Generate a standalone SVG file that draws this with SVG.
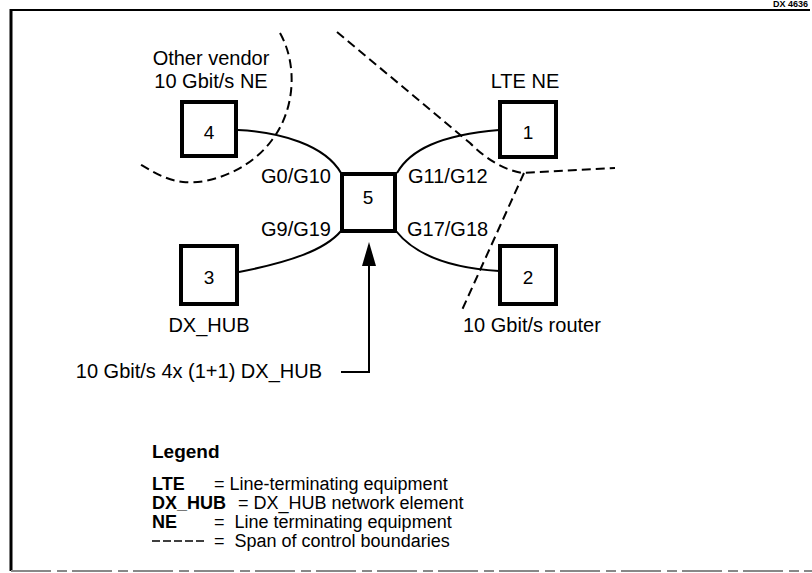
<svg xmlns="http://www.w3.org/2000/svg" width="812" height="573" viewBox="0 0 812 573">
<style>
text{font-family:"Liberation Sans",Arial,sans-serif;fill:#000}
.lbl{font-size:20px}
.num{font-size:19px}
.box{fill:#fff;stroke:#000;stroke-width:4}
.link{fill:none;stroke:#000;stroke-width:2}
.dash{fill:none;stroke:#000;stroke-width:2;stroke-dasharray:9,5}
.leg{font-size:18px}
.legb{font-size:18px;font-weight:bold}
</style>
<rect width="812" height="573" fill="#fff"/>
<g id="frame">
<line x1="11" y1="10" x2="810" y2="10" stroke="#000" stroke-width="2"/>
<line x1="11" y1="9" x2="11" y2="571" stroke="#000" stroke-width="3"/>
<line x1="11" y1="571" x2="812" y2="571" stroke="#888" stroke-width="2" stroke-dasharray="40,6,10,5"/>
<text x="808" y="7" text-anchor="end" style="font-size:9px;font-weight:bold">DX 4636</text>
</g>
<g id="boundaries">
<path class="dash" d="M280,33 C298,65 295,110 272,140 C250,170 210,185 183,182 C165,180 150,170 138,163"/>
<path class="dash" d="M337,32 L470,143 Q495,168 522,173 L615,168"/>
<path class="dash" d="M524,173 L462,310"/>
</g>
<g id="connectors">
<path class="link" d="M238,130 C280,132 325,145 341,173"/>
<path class="link" d="M397,173 C410,150 440,135 499,130"/>
<path class="link" d="M239,272 C290,262 325,250 341,231"/>
<path class="link" d="M396,231 C415,255 450,268 499,271"/>
<path class="link" d="M341,372 H369 V262"/>
<polygon points="369,242 376,266 362,266" fill="#000"/>
</g>
<g id="node4">
<rect class="box" x="182" y="102" width="54" height="54"/>
<text class="num" x="209" y="139" text-anchor="middle">4</text>
<text class="lbl" x="211" y="65" text-anchor="middle">Other vendor</text>
<text class="lbl" x="211" y="88" text-anchor="middle">10 Gbit/s NE</text>
</g>
<g id="node1">
<rect class="box" x="500" y="102" width="56" height="55"/>
<text class="num" x="528" y="139" text-anchor="middle">1</text>
<text class="lbl" x="525" y="88" text-anchor="middle">LTE NE</text>
</g>
<g id="node5">
<rect class="box" x="342" y="174" width="53" height="57"/>
<text class="num" x="368" y="204" text-anchor="middle">5</text>
<text class="lbl" x="331" y="183" text-anchor="end">G0/G10</text>
<text class="lbl" x="408" y="183">G11/G12</text>
<text class="lbl" x="331" y="236" text-anchor="end">G9/G19</text>
<text class="lbl" x="407" y="236">G17/G18</text>
<text class="lbl" x="322" y="378" text-anchor="end">10 Gbit/s 4x (1+1) DX_HUB</text>
</g>
<g id="node3">
<rect class="box" x="181" y="246" width="56" height="58"/>
<text class="num" x="209" y="284" text-anchor="middle">3</text>
<text class="lbl" x="209" y="332" text-anchor="middle">DX_HUB</text>
</g>
<g id="node2">
<rect class="box" x="500" y="246" width="56" height="58"/>
<text class="num" x="528" y="284" text-anchor="middle">2</text>
<text class="lbl" x="463" y="332">10 Gbit/s router</text>
</g>
<g id="legend">
<text class="legb" x="152" y="458" style="font-size:19px">Legend</text>
<text class="legb" x="152" y="490">LTE</text>
<text class="leg" x="214" y="490">= Line-terminating equipment</text>
<text class="legb" x="152" y="509">DX_HUB</text>
<text class="leg" x="238" y="509">= DX_HUB network element</text>
<text class="legb" x="152" y="528">NE</text>
<text class="leg" x="214" y="528" xml:space="preserve">=  Line terminating equipment</text>
<line x1="152" y1="541" x2="206" y2="541" stroke="#000" stroke-width="1.5" stroke-dasharray="8,3"/>
<text class="leg" x="214" y="547" xml:space="preserve">=  Span of control boundaries</text>
</g>
</svg>
